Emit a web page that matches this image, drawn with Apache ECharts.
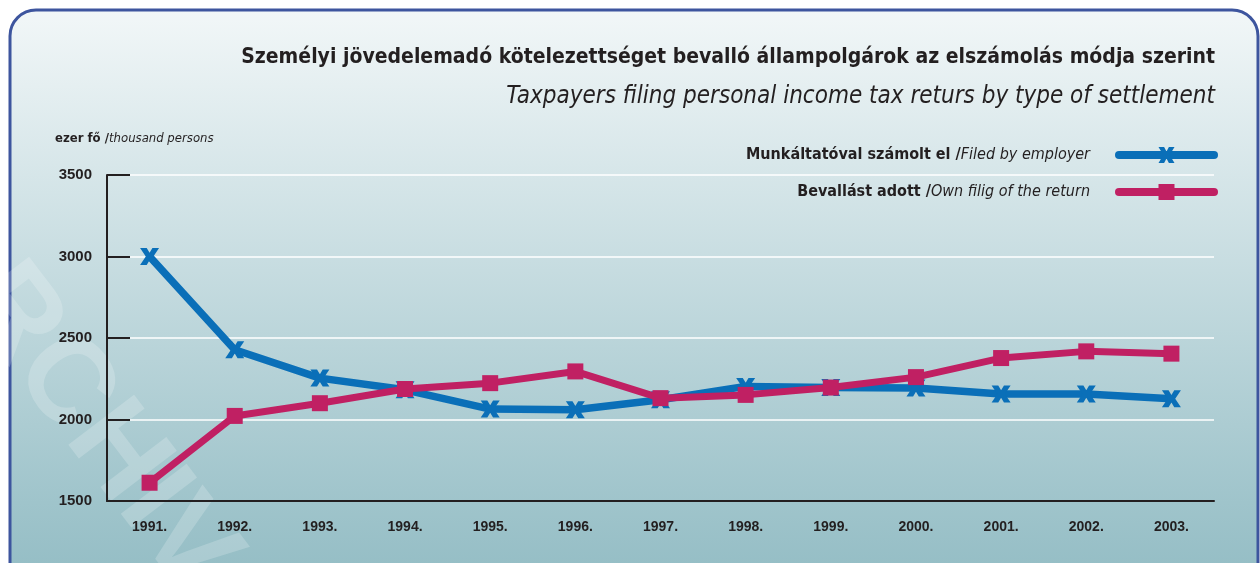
<!DOCTYPE html>
<html>
<head>
<meta charset="utf-8">
<script src="https://cdn.jsdelivr.net/npm/echarts@6/dist/echarts.min.js"></script>
<style>
  html, body { margin: 0; padding: 0; background: #fff; }
  #chart { width: 1260px; height: 563px; }
</style>
</head>
<body>
<div id="chart"></div>
<script>
// ── data ──
const years = ['1991.', '1992.', '1993.', '1994.', '1995.', '1996.', '1997.',
  '1998.', '1999.', '2000.', '2001.', '2002.', '2003.']
const byEmployer = [3000, 2428, 2254, 2182, 2064, 2060, 2121, 2203, 2196, 2193, 2156, 2156, 2127]
const ownFiling = [1612, 2022, 2100, 2187, 2223, 2295, 2131, 2151, 2196, 2260, 2377, 2418, 2404]
const seriesNames = ['Munkáltatóval számolt el /Filed by employer', 'Bevallást adott /Own filig of the return']
const yMin = 1500
const yMax = 3500
const yStep = 500

const NARROW = "'Liberation Sans Narrow', 'DejaVu Sans Condensed', 'Liberation Sans', sans-serif"
const INK = '#231f20'
const BLUE = '#0a6fb8'
const PINK = '#c02063'
const X_MARK = 'path://M0,0 H7 L10,5 L13,0 H20 L14,9 L20,18 H13 L10,13 L7,18 H0 L6,9 Z'

const chart = echarts.init(document.getElementById('chart'))
chart.setOption({
  animation: false,
  title: [
    {
      text: 'Személyi jövedelemadó kötelezettséget bevalló állampolgárok az elszámolás módja szerint',
      right: 40,
      top: 42,
      textStyle: { fontFamily: NARROW, fontWeight: 'bold', fontSize: 21, color: INK },
    },
    {
      text: 'Taxpayers filing personal income tax returs by type of settlement',
      right: 40,
      top: 80,
      textStyle: { fontFamily: NARROW, fontStyle: 'italic', fontWeight: 'normal', fontSize: 24, color: INK },
    },
  ],
  legend: {
    orient: 'vertical',
    right: 37,
    top: 142,
    align: 'right',
    itemWidth: 95,
    itemHeight: 20,
    itemGap: 21,
    data: seriesNames,
    lineStyle: { width: 8, cap: 'round' },
    formatter: (name) => {
      const [hu, en] = name.split(' /')
      return '{b|' + hu + ' /}{i|' + en + '}'
    },
    textStyle: {
      padding: [0, 24, 0, 0],
      rich: {
        b: { fontFamily: NARROW, fontWeight: 'bold', fontSize: 16, color: INK },
        i: { fontFamily: NARROW, fontStyle: 'italic', fontSize: 16, color: INK },
      },
    },
  },
  grid: { left: 107, right: 46, top: 175, bottom: 62 },
  xAxis: {
    type: 'category',
    data: years,
    axisLine: { lineStyle: { color: INK, width: 2 } },
    axisTick: { inside: true, length: 5, lineStyle: { color: INK, width: 1.5 } },
    axisLabel: { margin: 19, fontFamily: 'Liberation Sans', fontWeight: 'bold', fontSize: 14, color: INK },
  },
  yAxis: {
    type: 'value',
    min: yMin,
    max: yMax,
    interval: yStep,
    axisLine: { show: true, lineStyle: { color: INK, width: 2 } },
    axisTick: { show: true, inside: true, length: 23, lineStyle: { color: INK, width: 2 } },
    axisLabel: {
      margin: 15,
      formatter: (v) => String(v),
      fontFamily: 'Liberation Sans',
      fontWeight: 'bold',
      fontSize: 15,
      color: INK,
    },
    splitLine: { lineStyle: { color: '#ffffff', width: 1.5 } },
  },
  graphic: [
    {
      type: 'rect',
      z: -100,
      silent: true,
      shape: { x: 10, y: 10, width: 1248, height: 600, r: 26 },
      style: {
        fill: new echarts.graphic.LinearGradient(0, 0, 0, 1, [
          { offset: 0, color: '#f2f7f8' },
          { offset: 0.82, color: '#9fc4cb' },
          { offset: 1, color: '#8fbac2' },
        ]),
        stroke: '#3d559e',
        lineWidth: 3,
      },
    },
    {
      type: 'text',
      z: -50,
      silent: true,
      x: -20,
      y: 175,
      rotation: -0.92,
      style: { text: 'ARCHIV', font: 'bold 120px "Liberation Sans"', fill: 'rgba(255,255,255,0.2)' },
    },
    {
      type: 'text',
      left: 55,
      top: 132,
      style: {
        text: '{b|ezer fő /}{i|thousand persons}',
        rich: {
          b: { fontFamily: NARROW, fontWeight: 'bold', fontSize: 13, fill: INK },
          i: { fontFamily: NARROW, fontStyle: 'italic', fontSize: 13, fill: INK },
        },
      },
    },
  ],
  series: [
    {
      name: seriesNames[0],
      type: 'line',
      data: byEmployer,
      symbol: X_MARK,
      symbolSize: [19, 17],
      showAllSymbol: true,
      lineStyle: { color: BLUE, width: 7.5 },
      itemStyle: { color: BLUE },
      z: 3,
    },
    {
      name: seriesNames[1],
      type: 'line',
      data: ownFiling,
      symbol: 'rect',
      symbolSize: 16,
      showAllSymbol: true,
      lineStyle: { color: PINK, width: 7 },
      itemStyle: { color: PINK },
      z: 4,
    },
  ],
})
</script>
</body>
</html>
